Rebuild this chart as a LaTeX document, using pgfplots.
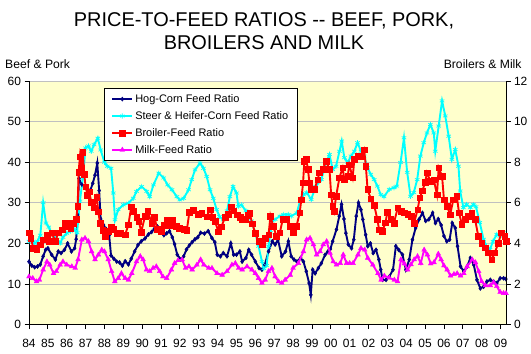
\documentclass[border=0pt]{standalone}
\usepackage{fontspec}
\setmainfont{Liberation Sans}
\usepackage{pgfplots}
\usepackage{pgfplotstable}
\pgfplotsset{compat=1.18}
\definecolor{navyc}{RGB}{0,0,128}
\definecolor{cyanc}{RGB}{0,255,255}
\definecolor{magc}{RGB}{255,0,255}
\definecolor{redc}{RGB}{255,0,0}
\definecolor{plotbg}{RGB}{255,255,204}
\definecolor{gridc}{RGB}{192,192,192}

\pgfplotstableread{
x y
1984.0 15.5
1984.15 14.5
1984.3 14.1
1984.45 14.3
1984.6 14.8
1984.75 16.8
1984.88 18.4
1985.0 18.8
1985.2 17.2
1985.4 16.0
1985.55 18.0
1985.7 17.6
1985.88 18.4
1986.05 20.0
1986.25 18.0
1986.42 18.8
1986.5 21.0
1986.58 27.0
1986.65 36.0
1986.8 34.5
1986.95 33.8
1987.1 33.4
1987.25 33.0
1987.38 34.8
1987.5 36.8
1987.62 39.8
1987.72 33.0
1987.8 26.0
1987.95 24.5
1988.1 23.5
1988.25 22.0
1988.35 17.0
1988.5 16.2
1988.65 15.5
1988.8 15.3
1988.95 14.5
1989.1 15.6
1989.27 14.8
1989.42 16.2
1989.6 18.0
1989.78 19.6
1989.95 20.5
1990.15 21.2
1990.33 22.2
1990.5 22.8
1990.65 23.6
1990.8 24.2
1991.0 23.2
1991.15 22.0
1991.3 22.5
1991.45 23.0
1991.6 21.5
1991.72 19.8
1991.86 17.2
1992.05 16.0
1992.2 16.8
1992.35 18.5
1992.5 19.5
1992.65 20.3
1992.8 21.0
1992.95 21.5
1993.1 22.6
1993.3 22.4
1993.5 23.0
1993.7 21.3
1993.85 20.3
1993.98 17.2
1994.15 16.8
1994.3 17.6
1994.5 16.8
1994.7 20.0
1994.85 17.2
1995.0 17.2
1995.18 18.0
1995.3 15.5
1995.5 16.4
1995.65 18.4
1995.8 17.2
1996.0 15.5
1996.2 13.9
1996.35 13.5
1996.5 14.7
1996.7 18.0
1996.9 20.5
1997.05 19.7
1997.2 20.9
1997.4 16.8
1997.6 18.0
1997.75 20.5
1997.9 16.8
1998.05 16.0
1998.2 15.5
1998.4 16.4
1998.55 15.5
1998.7 13.1
1998.85 10.2
1998.94 7.3
1999.04 13.5
1999.17 12.6
1999.34 13.9
1999.5 15.1
1999.7 17.2
1999.85 18.0
1999.98 18.6
2000.1 20.5
2000.3 23.4
2000.45 26.7
2000.57 29.6
2000.7 26.0
2000.8 22.5
2000.93 19.7
2001.1 18.8
2001.22 20.9
2001.35 26.7
2001.47 30.0
2001.6 28.3
2001.7 25.9
2001.85 22.1
2001.96 19.3
2002.1 20.0
2002.25 17.6
2002.4 18.4
2002.55 16.0
2002.65 13.5
2002.75 11.0
2002.93 11.0
2003.1 11.8
2003.3 13.5
2003.45 19.3
2003.6 18.4
2003.8 17.2
2003.98 13.5
2004.16 16.0
2004.33 20.9
2004.5 23.8
2004.68 25.9
2004.86 27.5
2005.03 25.5
2005.2 25.9
2005.4 27.5
2005.55 25.0
2005.7 26.0
2005.85 24.5
2006.0 21.8
2006.15 20.5
2006.3 20.9
2006.44 25.0
2006.6 23.8
2006.72 19.3
2006.88 14.3
2007.05 13.1
2007.23 14.3
2007.4 16.4
2007.58 14.7
2007.75 11.0
2007.93 8.9
2008.1 9.3
2008.28 10.6
2008.46 11.0
2008.63 10.6
2008.8 10.2
2008.98 11.4
2009.16 11.4
2009.28 11.2
}\hog

\pgfplotstableread{
x y
1984.0 20.5
1984.15 21.5
1984.3 20.0
1984.45 20.5
1984.6 22.0
1984.75 30.0
1984.9 25.0
1985.05 24.0
1985.2 22.5
1985.35 21.7
1985.5 21.0
1985.65 20.0
1985.8 21.5
1986.0 22.5
1986.2 23.0
1986.4 23.4
1986.55 22.6
1986.7 30.4
1986.85 36.0
1987.0 43.5
1987.15 44.0
1987.3 42.7
1987.45 44.3
1987.65 45.9
1987.8 43.0
1988.0 40.0
1988.15 39.0
1988.35 38.5
1988.47 32.4
1988.56 25.8
1988.73 28.3
1989.0 29.5
1989.27 29.9
1989.53 31.1
1989.7 32.8
1989.97 34.0
1990.24 32.8
1990.4 31.5
1990.6 34.4
1990.88 37.3
1991.14 36.1
1991.35 34.4
1991.58 33.2
1991.84 31.5
1992.0 30.7
1992.2 31.1
1992.46 33.2
1992.63 35.7
1992.8 38.1
1993.07 39.8
1993.25 38.5
1993.42 36.5
1993.6 33.2
1993.77 31.1
1993.95 28.3
1994.1 26.6
1994.3 25.8
1994.5 28.0
1994.65 31.5
1994.82 34.0
1995.0 32.4
1995.1 29.1
1995.26 29.5
1995.5 28.0
1995.8 25.5
1996.0 22.5
1996.17 19.3
1996.35 15.5
1996.45 13.8
1996.6 14.5
1996.7 19.3
1996.8 22.6
1996.9 25.5
1997.05 25.9
1997.3 26.7
1997.5 27.1
1997.75 27.1
1997.9 26.7
1998.2 27.5
1998.4 31.0
1998.55 32.0
1998.73 32.5
1998.96 30.8
1999.2 34.0
1999.5 35.7
1999.75 39.9
1999.93 41.9
2000.1 38.2
2000.28 39.0
2000.46 42.7
2000.58 45.2
2000.72 41.1
2000.9 39.9
2001.07 41.5
2001.25 42.7
2001.42 44.8
2001.6 42.7
2001.77 41.5
2001.95 38.6
2002.12 37.0
2002.3 35.7
2002.47 34.1
2002.65 32.0
2002.82 31.5
2003.1 33.3
2003.35 33.7
2003.5 34.1
2003.7 39.9
2003.88 46.0
2004.05 37.5
2004.23 31.6
2004.4 32.5
2004.58 35.7
2004.75 41.5
2004.93 44.8
2005.1 47.2
2005.28 49.3
2005.46 47.2
2005.54 42.7
2005.72 48.9
2005.9 55.1
2006.07 51.4
2006.25 46.4
2006.42 40.7
2006.6 43.1
2006.77 39.0
2006.86 32.9
2007.03 28.8
2007.2 29.6
2007.4 28.8
2007.56 29.6
2007.7 29.0
2007.9 25.1
2008.1 21.0
2008.26 19.3
2008.44 18.5
2008.6 20.5
2008.8 22.2
2008.96 21.8
2009.14 22.6
2009.28 21.8
}\steer

\pgfplotstableread{
x y
1984.0 4.52
1984.1 4.26
1984.23 3.76
1984.4 3.68
1984.6 3.94
1984.75 4.18
1984.95 4.42
1985.05 4.10
1985.2 4.52
1985.4 4.10
1985.55 4.52
1985.75 4.68
1985.9 5.00
1986.0 4.84
1986.1 5.00
1986.2 4.76
1986.35 5.00
1986.5 5.18
1986.58 5.84
1986.63 7.50
1986.7 8.26
1986.78 7.70
1986.85 8.50
1986.93 7.40
1987.0 6.80
1987.1 6.38
1987.2 6.54
1987.3 6.02
1987.45 5.76
1987.59 6.26
1987.68 5.56
1987.76 5.00
1987.9 4.66
1988.05 4.34
1988.2 4.60
1988.35 4.80
1988.5 4.70
1988.65 4.50
1988.82 4.50
1989.1 4.42
1989.27 4.92
1989.42 5.80
1989.55 5.58
1989.7 5.30
1989.82 5.10
1989.95 4.56
1990.15 5.34
1990.3 5.58
1990.5 5.00
1990.65 5.30
1990.8 4.70
1991.0 4.60
1991.15 4.90
1991.3 5.16
1991.45 4.90
1991.6 5.16
1991.8 4.84
1991.95 4.76
1992.2 4.70
1992.37 4.66
1992.5 5.52
1992.7 5.62
1992.98 5.44
1993.16 5.48
1993.42 5.32
1993.6 5.66
1993.75 5.30
1993.86 5.08
1994.04 4.58
1994.2 4.82
1994.4 5.30
1994.56 5.44
1994.72 5.80
1994.85 5.60
1995.03 5.42
1995.2 5.30
1995.3 5.16
1995.47 5.20
1995.6 5.40
1995.7 5.48
1995.84 4.96
1996.0 4.50
1996.17 4.10
1996.35 3.96
1996.52 4.26
1996.7 4.42
1996.8 5.34
1996.95 4.84
1997.12 4.36
1997.3 4.52
1997.45 5.18
1997.65 5.18
1997.82 4.84
1998.0 4.52
1998.18 4.84
1998.35 5.50
1998.44 6.16
1998.53 6.98
1998.6 8.06
1998.7 8.14
1998.79 7.64
1998.87 6.98
1998.96 6.66
1999.14 6.66
1999.3 7.14
1999.4 7.48
1999.58 7.64
1999.75 8.06
1999.93 7.64
2000.02 6.40
2000.1 5.84
2000.18 5.58
2000.28 6.32
2000.46 7.24
2000.63 7.72
2000.72 7.14
2000.9 7.32
2000.98 7.88
2001.16 7.24
2001.25 8.14
2001.42 8.30
2001.6 8.30
2001.77 8.62
2001.86 7.80
2001.95 6.66
2002.12 6.20
2002.3 5.88
2002.47 5.18
2002.56 4.68
2002.74 4.60
2002.9 5.02
2003.0 5.54
2003.18 5.18
2003.35 5.00
2003.55 5.76
2003.72 5.58
2003.9 5.50
2004.07 5.44
2004.25 5.34
2004.42 5.00
2004.6 5.66
2004.72 6.24
2004.86 6.60
2005.0 7.00
2005.1 7.48
2005.28 7.06
2005.46 7.14
2005.63 6.40
2005.72 7.72
2005.9 7.32
2006.0 6.16
2006.16 5.84
2006.33 5.42
2006.5 6.16
2006.68 6.32
2006.8 5.50
2006.95 4.94
2007.12 5.18
2007.3 5.34
2007.47 5.50
2007.65 5.18
2007.82 4.36
2008.0 4.02
2008.18 3.78
2008.35 3.54
2008.53 3.20
2008.7 3.54
2008.88 4.02
2009.05 4.52
2009.23 4.36
2009.29 4.10
}\broiler

\pgfplotstableread{
x y
1984.0 2.36
1984.2 2.28
1984.4 2.12
1984.55 2.20
1984.75 2.70
1984.95 3.10
1985.1 2.94
1985.3 2.52
1985.45 2.62
1985.65 2.94
1985.8 3.10
1986.0 2.94
1986.27 2.86
1986.45 2.78
1986.6 3.20
1986.8 4.18
1986.97 4.26
1987.15 4.10
1987.32 3.60
1987.5 3.20
1987.68 3.44
1987.86 3.68
1988.0 3.60
1988.2 3.20
1988.38 2.62
1988.55 2.12
1988.73 2.28
1988.9 2.52
1989.1 2.28
1989.27 2.20
1989.45 2.52
1989.7 3.10
1989.9 3.36
1990.05 3.20
1990.23 2.70
1990.4 2.62
1990.58 2.78
1990.75 2.86
1990.93 2.62
1991.1 2.36
1991.3 2.28
1991.55 2.70
1991.72 3.02
1991.9 3.16
1992.12 3.20
1992.3 2.78
1992.48 2.86
1992.65 2.70
1992.9 2.94
1993.1 3.20
1993.27 2.94
1993.53 2.78
1993.7 2.78
1993.97 2.52
1994.24 2.44
1994.5 2.62
1994.76 2.94
1994.94 3.02
1995.12 2.78
1995.3 2.70
1995.56 2.86
1995.82 2.70
1996.0 2.52
1996.17 2.28
1996.35 2.04
1996.52 2.20
1996.7 2.62
1996.88 2.78
1997.05 2.36
1997.23 2.12
1997.4 2.04
1997.58 2.20
1997.85 2.44
1998.0 2.78
1998.28 3.02
1998.55 3.60
1998.72 4.18
1998.9 4.26
1999.08 3.94
1999.25 3.44
1999.43 3.60
1999.6 3.94
1999.78 4.10
1999.96 3.52
2000.13 3.10
2000.3 2.94
2000.5 3.02
2000.66 3.44
2000.84 3.02
2001.0 3.02
2001.18 3.02
2001.44 3.44
2001.6 3.76
2001.8 3.68
2001.96 3.28
2002.23 2.94
2002.5 2.52
2002.67 2.20
2002.84 2.40
2003.1 2.30
2003.37 2.20
2003.54 2.12
2003.72 3.20
2003.9 3.00
2004.07 2.70
2004.25 2.96
2004.42 3.20
2004.6 3.36
2004.77 3.02
2004.95 3.68
2005.12 3.44
2005.3 3.00
2005.47 3.06
2005.7 3.48
2005.85 3.20
2006.0 2.90
2006.17 2.70
2006.35 2.40
2006.53 2.48
2006.7 2.52
2006.88 2.40
2007.05 2.52
2007.23 2.86
2007.5 3.20
2007.67 3.06
2007.84 2.62
2008.0 2.12
2008.2 1.92
2008.46 1.92
2008.63 2.08
2008.8 1.88
2008.98 1.60
2009.16 1.54
2009.29 1.54
}\milk

\pgfplotsset{
  hogstyle/.style={color=navyc, line width=1.9pt, mark=diamond*, mark size=2.1pt, mark options={solid, line width=0.4pt}},
  steerstyle/.style={color=cyanc, line width=1.9pt, mark=asterisk, mark size=2.6pt, mark options={solid, line width=0.7pt}},
  broilerstyle/.style={color=redc, line width=1.9pt, mark=square*, mark size=2.8pt, mark options={solid, line width=0.4pt}},
  milkstyle/.style={color=magc, line width=1.9pt, mark=triangle*, mark size=2.8pt, mark options={solid, line width=0.4pt}},
  common/.style={
    scale only axis, width=477bp, height=243.5bp,
    at={(0,0)}, anchor=south west,
    xmin=1984, xmax=2009.29, ymin=0,
    clip=false,
    tick align=outside,
    major tick length=4.5bp,
    tick style={black, line width=0.8pt},
    axis line style={black, line width=0.8pt},
    tick label style={font=\fontsize{12}{14}\selectfont},
    /pgf/number format/assume math mode=true,
  },
}

\begin{document}
\begin{tikzpicture}
\useasboundingbox (-29bp,-29.5bp) rectangle (502bp,324.5bp);
\begin{axis}[common,
  ymax=60,
  axis x line*=bottom, axis y line*=left,
  xtick={1984,1985,1986,1987,1988,1989,1990,1991,1992,1993,1994,1995,1996,1997,1998,1999,2000,2001,2002,2003,2004,2005,2006,2007,2008,2009},
  xticklabels={84,85,86,87,88,89,90,91,92,93,94,95,96,97,98,99,00,01,02,03,04,05,06,07,08,09},
  xticklabel style={yshift=-7bp},
  ytick={0,10,20,30,40,50,60},
  ymajorgrids, major grid style={gridc, line width=0.8pt},
  axis background/.style={fill=plotbg},
]
\addplot[hogstyle] table {\hog};
\addplot[steerstyle] table {\steer};
\end{axis}
\begin{axis}[common,
  ymax=12,
  axis y line*=right, axis x line=none,
  ytick={0,2,4,6,8,10,12},
  legend cell align=left,
  legend image code/.code={\draw[mark repeat=2,mark phase=2,#1] plot coordinates {(0bp,0bp)(10bp,0bp)(20bp,0bp)};},
  legend style={at={(0.1572,0.9713)}, anchor=north west, draw=black, line width=0.8pt, fill=white,
    font=\fontsize{11}{13}\selectfont, inner xsep=7bp, inner ysep=4bp, row sep=3.5bp,
    /tikz/every odd column/.append style={column sep=0bp}},
]
\addlegendimage{hogstyle}
\addlegendentry{Hog-Corn Feed Ratio}
\addlegendimage{steerstyle}
\addlegendentry{Steer \& Heifer-Corn Feed Ratio}
\addplot[broilerstyle] table {\broiler};
\addlegendentry{Broiler-Feed Ratio}
\addplot[milkstyle] table {\milk};
\addlegendentry{Milk-Feed Ratio}
\end{axis}
\node[anchor=base, font=\fontsize{20}{24}\selectfont] at (235bp,297.8bp) {PRICE-TO-FEED RATIOS -{}- BEEF, PORK,};
\node[anchor=base, font=\fontsize{20}{24}\selectfont] at (235bp,274.8bp) {BROILERS AND MILK};
\node[anchor=base west, inner sep=0pt, font=\fontsize{12.2}{14}\selectfont] at (-24bp,255.5bp) {Beef \& Pork};
\node[anchor=base east, inner sep=0pt, font=\fontsize{12.2}{14}\selectfont] at (492.7bp,255.5bp) {Broilers \& Milk};
\end{tikzpicture}
\end{document}
